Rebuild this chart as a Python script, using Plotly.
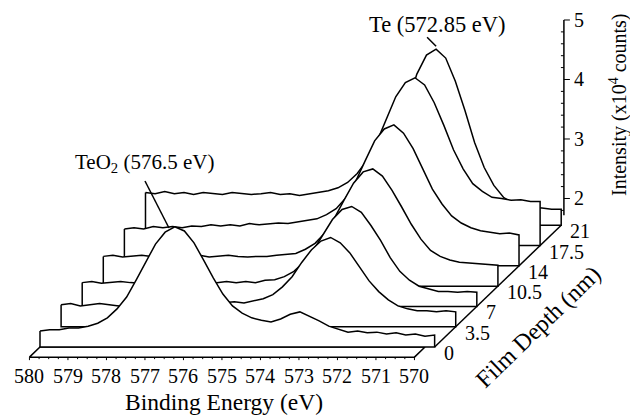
import plotly.graph_objects as go

# ---------------- data ----------------
energy = [580.0, 579.75, 579.5, 579.25, 579.0, 578.75, 578.5, 578.25, 578.0, 577.75,
          577.5, 577.25, 577.0, 576.75, 576.5, 576.25, 576.0, 575.75, 575.5, 575.25,
          575.0, 574.75, 574.5, 574.25, 574.0, 573.75, 573.5, 573.25, 573.0, 572.75,
          572.5, 572.25, 572.0, 571.75, 571.5, 571.25, 571.0, 570.75, 570.5, 570.25,
          570.0, 569.75]

depths = [0, 3.5, 7, 10.5, 14, 17.5, 21]

# intensities in 10^4 counts
int_d0 = [1.82, 1.84, 1.84, 1.87, 1.87, 1.90, 1.95, 2.04, 2.19, 2.39,
          2.68, 2.98, 3.28, 3.48, 3.57, 3.50, 3.30, 3.01, 2.71, 2.44,
          2.24, 2.12, 2.04, 2.00, 1.97, 2.02, 2.10, 2.14, 2.07, 1.99,
          1.90, 1.85, 1.80, 1.82, 1.79, 1.80, 1.77, 1.79, 1.75, 1.77,
          1.73, 1.75]
int_d3_5 = [1.92, 1.94, 1.90, 1.92, 1.94, 1.92, 1.90, 1.94, 1.92, 1.94,
            1.95, 1.92, 1.94, 1.95, 1.94, 1.95, 1.94, 1.95, 1.97, 1.95,
            1.99, 2.02, 2.09, 2.22, 2.39, 2.63, 2.84, 2.99, 3.05, 2.96,
            2.79, 2.56, 2.32, 2.14, 2.00, 1.90, 1.85, 1.82, 1.82, 1.80,
            1.82, 1.80]
int_d7 = [1.95, 1.97, 1.94, 1.95, 1.97, 1.95, 1.94, 1.97, 1.95, 1.95,
          1.97, 1.94, 1.95, 1.97, 1.95, 1.97, 1.95, 1.97, 1.95, 1.99,
          2.00, 2.05, 2.14, 2.29, 2.49, 2.76, 3.01, 3.18, 3.23, 3.13,
          2.91, 2.66, 2.37, 2.14, 1.99, 1.89, 1.84, 1.80, 1.80, 1.79,
          1.80, 1.79]
int_d10_5 = [2.05, 2.07, 2.04, 2.05, 2.07, 2.05, 2.04, 2.07, 2.05, 2.05,
             2.07, 2.04, 2.05, 2.07, 2.05, 2.04, 2.05, 2.05, 2.07, 2.09,
             2.10, 2.17, 2.27, 2.44, 2.69, 2.99, 3.28, 3.47, 3.52, 3.40,
             3.16, 2.88, 2.59, 2.34, 2.15, 2.05, 1.99, 1.95, 1.94, 1.92,
             1.92, 1.90]
int_d14 = [2.17, 2.19, 2.17, 2.21, 2.19, 2.21, 2.19, 2.22, 2.21, 2.24,
           2.22, 2.24, 2.22, 2.26, 2.24, 2.26, 2.27, 2.26, 2.29, 2.32,
           2.34, 2.41, 2.51, 2.69, 2.96, 3.31, 3.65, 3.85, 3.92, 3.78,
           3.52, 3.18, 2.84, 2.59, 2.39, 2.27, 2.19, 2.14, 2.12, 2.09,
           2.10, 2.07]
int_d17_5 = [2.44, 2.42, 2.46, 2.42, 2.44, 2.41, 2.44, 2.42, 2.41, 2.44,
             2.42, 2.41, 2.42, 2.44, 2.41, 2.42, 2.39, 2.42, 2.44, 2.47,
             2.52, 2.61, 2.76, 2.98, 3.28, 3.65, 4.05, 4.29, 4.37, 4.25,
             3.95, 3.57, 3.16, 2.84, 2.59, 2.46, 2.36, 2.34, 2.31, 2.32,
             2.29, 2.29]
int_d21 = [1.95, 1.97, 1.94, 1.95, 1.95, 1.94, 1.95, 1.94, 1.95, 1.94,
           1.94, 1.95, 1.94, 1.94, 1.92, 1.94, 1.94, 1.92, 1.95, 2.00,
           2.05, 2.15, 2.34, 2.63, 3.05, 3.57, 4.09, 4.41, 4.51, 4.36,
           3.97, 3.48, 2.94, 2.52, 2.22, 2.02, 1.92, 1.89, 1.85, 1.84,
           1.82, 1.82]

spectra = [int_d0, int_d3_5, int_d7, int_d10_5, int_d14, int_d17_5, int_d21]

energy_ticks = [580, 579, 578, 577, 576, 575, 574, 573, 572, 571, 570]
depth_labels = ["0", "3.5", "7", "10.5", "14", "17.5", "21"]
intensity_ticks = [2, 3, 4, 5]
intensity_minor = [1.8, 2.2, 2.4, 2.6, 2.8, 3.2, 3.4, 3.6, 3.8, 4.2, 4.4, 4.6, 4.8]

teo2_peak_label = "TeO<sub>2</sub> (576.5 eV)"
te_peak_label = "Te (572.85 eV)"

# ---------------- oblique projection ----------------
Z_FLOOR = 1.55          # intensity at the floor plane
Z_AXIS_MIN = 1.72
Z_AXIS_MAX = 5.0
FLOOR_FRONT = -1.75     # depth of the front edge of the floor strip
E_HI, E_LO = 580.0, 570.0
DXN = 0.15657           # eV shift per nm of depth
DYN = 0.09743           # intensity shift per nm of depth
PX_E = 38.5             # px per eV
PX_Z = 59.5             # px per 10^4 counts
W, H = 638, 417
PAGE_OFF = 8            # page body margin of the browser

X_LEFT = 580.0 + (40 - PAGE_OFF) / PX_E
Y_TOP = Z_FLOOR + (347 - PAGE_OFF) / PX_Z

FONT = "Liberation Serif, Times New Roman, serif"
LW = 1.5


def proj(e, d, z):
    return e - d * DXN, z + d * DYN


def paper(px, py):
    return (px - PAGE_OFF) / W, 1 - (py - PAGE_OFF) / H


fig = go.Figure()

# floor strip
fx, fy = [], []
for e, d in [(E_HI, FLOOR_FRONT), (E_LO, FLOOR_FRONT), (E_LO, 0), (E_HI, 0), (E_HI, FLOOR_FRONT)]:
    x, y = proj(e, d, Z_FLOOR)
    fx.append(x); fy.append(y)
fig.add_trace(go.Scatter(x=fx, y=fy, mode="lines", fill="toself", fillcolor="white",
                         line=dict(color="black", width=LW), hoverinfo="skip"))

# floor ticks (front edge)
tx, ty = [], []
n_minor = 40
for j in range(n_minor + 1):
    e = E_HI - j * (E_HI - E_LO) / n_minor
    x, y = proj(e, FLOOR_FRONT, Z_FLOOR)
    ln = 3 if j % 4 == 0 else 2
    tx += [x, x, None]; ty += [y, y - ln / PX_Z, None]
fig.add_trace(go.Scatter(x=tx, y=ty, mode="lines", line=dict(color="black", width=1),
                         hoverinfo="skip"))

# spectra: back to front, white filled
for k in range(len(depths) - 1, -1, -1):
    d = depths[k]
    spec = spectra[k]
    xs, ys = [], []
    for e, z in zip(energy, spec):
        x, y = proj(e, d, z)
        xs.append(x); ys.append(y)
    for e in (energy[-1], energy[0]):
        x, y = proj(e, d, Z_FLOOR)
        xs.append(x); ys.append(y)
    xs.append(xs[0]); ys.append(ys[0])
    fig.add_trace(go.Scatter(x=xs, y=ys, mode="lines", fill="toself", fillcolor="white",
                             line=dict(color="black", width=LW), hoverinfo="skip"))

# depth axis
x0, y0 = proj(energy[-1], depths[0], Z_FLOOR)
x1, y1 = proj(energy[-1], depths[-1], Z_FLOOR)
fig.add_trace(go.Scatter(x=[x0, x1], y=[y0, y1], mode="lines",
                         line=dict(color="black", width=LW), hoverinfo="skip"))

# intensity axis
E_ZAXIS = 569.68
ax0 = proj(E_ZAXIS, depths[-1], Z_AXIS_MIN)
ax1 = proj(E_ZAXIS, depths[-1], Z_AXIS_MAX)
fig.add_trace(go.Scatter(x=[ax0[0], ax1[0]], y=[ax0[1], ax1[1]], mode="lines",
                         line=dict(color="black", width=LW), hoverinfo="skip"))
mx, my = [], []
for z in intensity_ticks:
    x, y = proj(E_ZAXIS, depths[-1], z)
    mx += [x, x - 6 / PX_E, None]; my += [y, y, None]
for z in intensity_minor:
    x, y = proj(E_ZAXIS, depths[-1], z)
    mx += [x, x + 3 / PX_E, None]; my += [y, y, None]
fig.add_trace(go.Scatter(x=mx, y=my, mode="lines", line=dict(color="black", width=1),
                         hoverinfo="skip"))

annotations = []
# energy tick labels
for e in energy_ticks:
    x, y = proj(e, FLOOR_FRONT, Z_FLOOR)
    annotations.append(dict(x=x, y=y, text=str(e), showarrow=False, xanchor="center",
                            yanchor="top", yshift=-6, font=dict(size=20)))
# depth tick labels
for d, lab in zip(depths, depth_labels):
    x, y = proj(energy[-1], d, Z_FLOOR)
    annotations.append(dict(x=x, y=y, text=lab, showarrow=False, xanchor="left",
                            yanchor="middle", xshift=7, yshift=-6, font=dict(size=20)))
# intensity tick labels
for z in intensity_ticks:
    x, y = proj(E_ZAXIS, depths[-1], z)
    annotations.append(dict(x=x, y=y, text=str(z), showarrow=False, xanchor="left",
                            yanchor="middle", xshift=8, font=dict(size=20)))

# peak markers
i_o = int_d0.index(max(int_d0))
pe, pz = proj(energy[i_o], depths[0], int_d0[i_o])
end_o = (pe + 0.15, pz - 0.02)
start_o = (end_o[0] + 24 / PX_E, end_o[1] + 47 / PX_Z)
fig.add_trace(go.Scatter(x=[start_o[0], end_o[0]], y=[start_o[1], end_o[1]], mode="lines",
                         line=dict(color="black", width=LW), hoverinfo="skip"))
annotations.append(dict(x=start_o[0], y=start_o[1], text=teo2_peak_label, showarrow=False,
                        xanchor="center", yanchor="bottom", yshift=3, font=dict(size=21)))

i_t = int_d21.index(max(int_d21))
pe, pz = proj(energy[i_t], depths[-1], int_d21[i_t])
end_t = (pe, pz + 0.05)
start_t = (end_t[0] + 9 / PX_E, end_t[1] + 9 / PX_Z)
fig.add_trace(go.Scatter(x=[start_t[0], end_t[0]], y=[start_t[1], end_t[1]], mode="lines",
                         line=dict(color="black", width=LW), hoverinfo="skip"))
annotations.append(dict(x=start_t[0], y=start_t[1], text=te_peak_label, showarrow=False,
                        xanchor="center", yanchor="bottom", xshift=10, yshift=-2,
                        font=dict(size=22.5)))

# axis titles
for (px, py), txt, ang, sz in [((224, 402), "Binding Energy (eV)", 0, 23.5),
                               ((538, 327), "Film Depth (nm)", -44, 24),
                               ((618, 105), "Intensity (x10<sup>4</sup> counts)", -90, 20)]:
    ax_, ay_ = paper(px, py)
    annotations.append(dict(x=ax_, y=ay_, xref="paper", yref="paper", text=txt,
                            showarrow=False, textangle=ang, xanchor="center",
                            yanchor="middle", font=dict(size=sz)))

fig.update_layout(
    width=W, height=H,
    margin=dict(l=0, r=0, t=0, b=0),
    paper_bgcolor="white", plot_bgcolor="white",
    showlegend=False,
    font=dict(family=FONT, color="black"),
    xaxis=dict(range=[X_LEFT, X_LEFT - W / PX_E], visible=False, fixedrange=True),
    yaxis=dict(range=[Y_TOP - H / PX_Z, Y_TOP], visible=False, fixedrange=True),
    annotations=annotations,
)

fig.write_html("out.html")
